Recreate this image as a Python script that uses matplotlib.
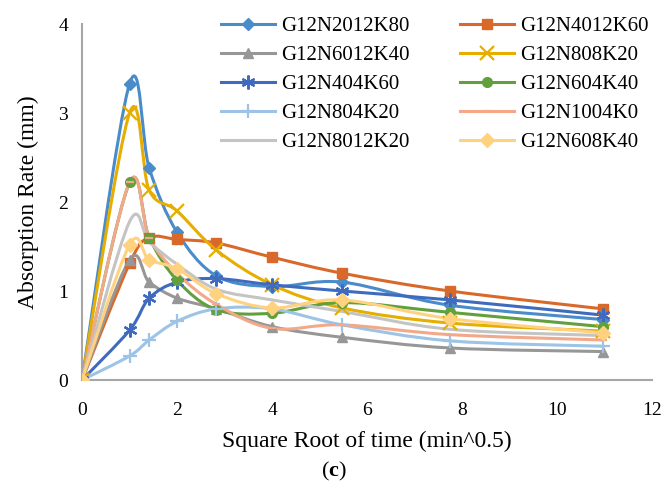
import numpy as np
import matplotlib
matplotlib.use('Agg')
import matplotlib.pyplot as plt
from matplotlib.path import Path
from matplotlib.patches import PathPatch
from matplotlib.lines import Line2D

matplotlib.rcParams['font.family'] = 'Liberation Serif'
matplotlib.rcParams['mathtext.fontset'] = 'custom'
matplotlib.rcParams['mathtext.rm'] = 'Liberation Serif'
matplotlib.rcParams['mathtext.bf'] = 'Liberation Serif:bold'

# square root of time (min^0.5)
x_time = [0, 1, 1.414, 2, 2.828, 4, 5.477, 7.746, 10.954]

names = ['G12N2012K80', 'G12N4012K60', 'G12N6012K40', 'G12N808K20', 'G12N404K60',
         'G12N604K40', 'G12N804K20', 'G12N1004K0', 'G12N8012K20', 'G12N608K40']

g12n2012k80 = [0, 3.33, 2.38, 1.66, 1.17, 1.05, 1.10, 0.84, 0.68]
g12n4012k60 = [0, 1.31, 1.60, 1.58, 1.54, 1.38, 1.20, 1.00, 0.80]
g12n6012k40 = [0, 1.35, 1.10, 0.92, 0.80, 0.60, 0.48, 0.36, 0.32]
g12n808k20 = [0, 3.00, 2.13, 1.90, 1.46, 1.07, 0.81, 0.64, 0.55]
g12n404k60 = [0, 0.56, 0.92, 1.10, 1.14, 1.07, 1.00, 0.90, 0.73]
g12n604k40 = [0, 2.22, 1.60, 1.12, 0.79, 0.75, 0.87, 0.76, 0.60]
g12n804k20 = [0, 0.27, 0.45, 0.66, 0.80, 0.80, 0.62, 0.44, 0.38]
g12n1004k0 = [0, 2.22, 1.60, 1.20, 0.85, 0.58, 0.62, 0.51, 0.45]
g12n8012k20 = [0, 1.78, 1.55, 1.30, 1.02, 0.90, 0.77, 0.57, 0.50]
g12n608k40 = [0, 1.52, 1.35, 1.25, 0.97, 0.81, 0.90, 0.69, 0.53]

series = [g12n2012k80, g12n4012k60, g12n6012k40, g12n808k20, g12n404k60,
          g12n604k40, g12n804k20, g12n1004k0, g12n8012k20, g12n608k40]

colors = ['#4A8BC9', '#D9692B', '#979797', '#E6AE00', '#3F6BBF',
          '#62A03D', '#9DC3E6', '#F2A98A', '#C4C4C4', '#FFD27F']
markers = ['D', 's', '^', 'x', (6, 2, 0), 'o', '+', '_', None, 'D']
msizes = [6, 7, 7, 10, 10, 7, 10, 6, 0, 7]


def smooth_path(xs, ys):
    # excel style smoothed line as bezier path
    pts = np.column_stack([xs, ys]).astype(float)
    n = len(pts)
    verts = [pts[0]]
    codes = [Path.MOVETO]
    for i in range(n - 1):
        p0 = pts[i - 1] if i > 0 else pts[i]
        p1 = pts[i]
        p2 = pts[i + 1]
        p3 = pts[i + 2] if i + 2 < n else pts[i + 1]
        c1 = p1 + (p2 - p0) / 6.0
        c2 = p2 - (p3 - p1) / 6.0
        verts += [c1, c2, p2]
        codes += [Path.CURVE4] * 3
    return Path(verts, codes)


def edge_w(m):
    return 1.6 if m in ('x', '+', '_') or isinstance(m, tuple) else 1


fig = plt.figure(figsize=(6.67, 4.91), dpi=100)
ax = fig.add_axes([0.123, 0.226, 0.855, 0.725])

handles = []
for name, ys, c, m, ms in zip(names, series, colors, markers, msizes):
    ax.add_patch(PathPatch(smooth_path(x_time, ys), facecolor='none',
                           edgecolor=c, lw=2.2, zorder=2))
    if m is not None:
        ax.plot(x_time, ys, linestyle='none', marker=m, markersize=ms,
                color=c, markeredgewidth=edge_w(m), zorder=3)
    handles.append(Line2D([0], [0], color=c, lw=2.2, marker=m, markersize=ms,
                          markeredgewidth=edge_w(m), label=name))

ax.set_xlim(0, 12)
ax.set_ylim(0, 4)
ax.set_xticks(range(0, 13, 2))
ax.set_yticks(range(0, 5))
ax.tick_params(length=0, labelsize=14)
ax.tick_params(axis='x', pad=16)
ax.tick_params(axis='y', pad=10)
for s in ['top', 'right']:
    ax.spines[s].set_visible(False)
for s in ['left', 'bottom']:
    ax.spines[s].set_color('#A6A6A6')
    ax.spines[s].set_linewidth(1.5)

ax.set_xlabel('Square Root of time (min^0.5)', fontsize=17, labelpad=8)
ax.set_ylabel('Absorption Rate (mm)', fontsize=17, labelpad=14)

# legend filled row by row like excel
order = [0, 2, 4, 6, 8, 1, 3, 5, 7, 9]
leg = ax.legend(handles=[handles[i] for i in order], ncol=2, loc='upper left',
                bbox_to_anchor=(0.331, 0.966), bbox_transform=fig.transFigure,
                borderaxespad=0, borderpad=0, frameon=False, fontsize=15,
                handlelength=2.6, columnspacing=2.4, labelspacing=0.45,
                handletextpad=0.3)

fig.text(0.5, 0.03, r'($\mathbf{c}$)', ha='center', fontsize=16)

fig.savefig('out.png', dpi=100)
